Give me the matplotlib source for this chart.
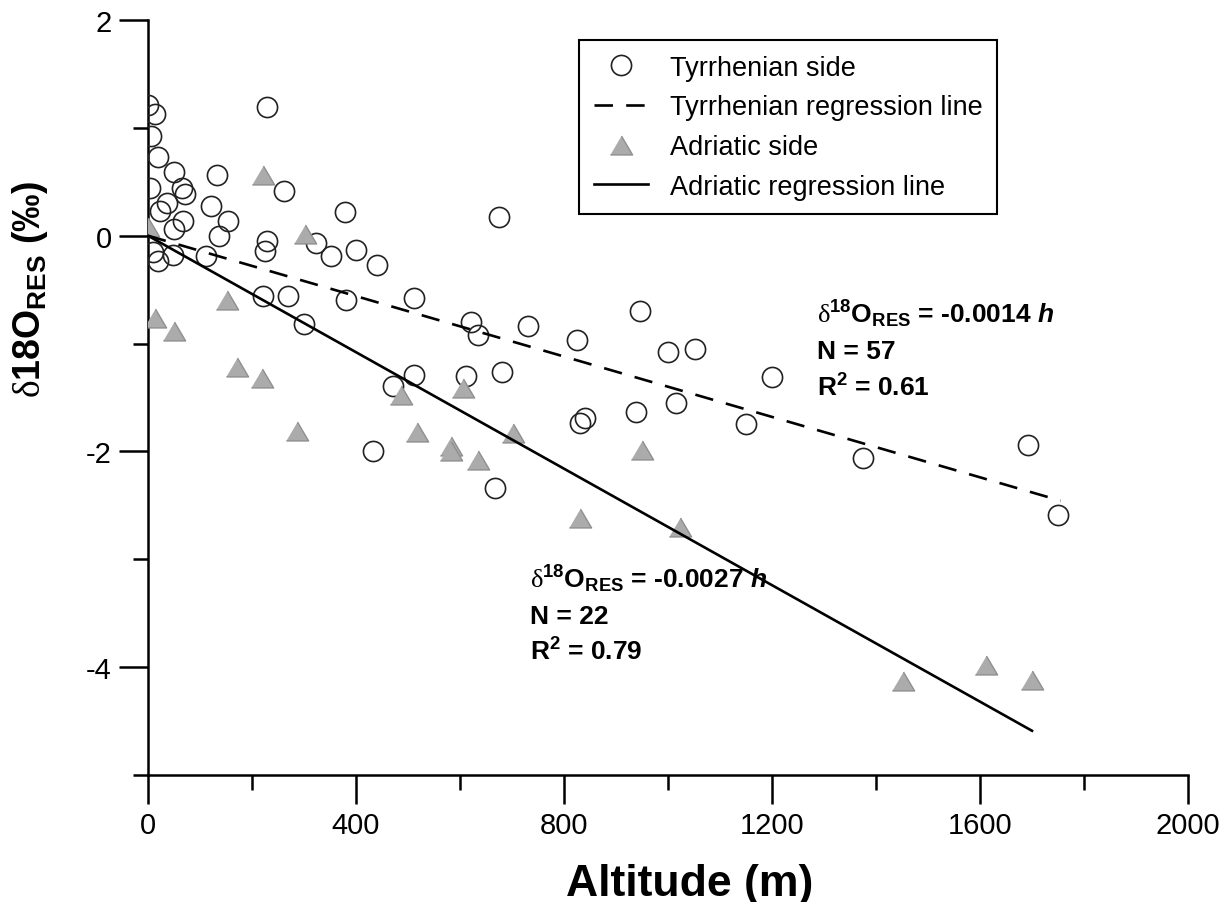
import numpy as np
import matplotlib
matplotlib.use("Agg")
import matplotlib.pyplot as plt
from matplotlib.ticker import MultipleLocator

plt.rcParams['font.family'] = ['Liberation Sans', 'DejaVu Sans']
plt.rcParams['mathtext.fontset'] = 'custom'
plt.rcParams['mathtext.rm'] = 'Liberation Serif'
plt.rcParams['mathtext.bf'] = 'Liberation Sans:bold'
plt.rcParams['mathtext.it'] = 'Liberation Sans:italic:bold'
plt.rcParams['axes.unicode_minus'] = False

# Tyrrhenian side (altitude m, d18O residual permil)
tyr_alt = [0, 13, 229, 6, 19, 50, 133, 4, 65, 71, 262, 121, 37, 23, 67,
           50, 154, 137, 229, 225, 323, 352, 400, 440, 379, 675, 10, 19, 48,
           112, 221, 269, 300, 381, 512, 621, 635, 731, 946, 825, 1000, 1052,
           1200, 512, 612, 681, 471, 1015, 938, 840, 831, 1150, 433, 667,
           1375, 1692, 1750]
tyr_d18o = [1.21, 1.13, 1.19, 0.92, 0.73, 0.59, 0.56, 0.44, 0.44, 0.39, 0.41,
            0.28, 0.30, 0.23, 0.14, 0.06, 0.14, 0.00, -0.05, -0.14, -0.07,
            -0.19, -0.13, -0.27, 0.22, 0.17, -0.15, -0.23, -0.18, -0.19,
            -0.56, -0.56, -0.82, -0.60, -0.58, -0.80, -0.92, -0.84, -0.70,
            -0.97, -1.08, -1.05, -1.31, -1.29, -1.30, -1.26, -1.39, -1.55,
            -1.63, -1.69, -1.74, -1.75, -2.00, -2.34, -2.06, -1.94, -2.59]

# Adriatic side
adr_alt = [0, 221, 302, 13, 50, 152, 171, 219, 287, 487, 606, 517, 583, 583,
           635, 702, 950, 831, 1023, 1452, 1612, 1700]
adr_d18o = [0.08, 0.56, 0.02, -0.76, -0.88, -0.60, -1.22, -1.32, -1.81, -1.48,
            -1.41, -1.82, -1.95, -2.00, -2.08, -1.83, -1.99, -2.62, -2.70,
            -4.13, -3.98, -4.12]

# regression lines through origin
tyr_slope = -0.0014
adr_slope = -0.0027
tyr_line_x = np.array([0, 1755])
adr_line_x = np.array([0, 1700])

fig = plt.figure(figsize=(12.3, 9.03), dpi=100)
ax = fig.add_axes([148 / 1230, 1 - 776 / 903, 1040 / 1230, 755 / 903])

tri = [(-1, -0.85), (1, -0.85), (0, 0.85)]

ax.plot(tyr_alt, tyr_d18o, 'o', ms=14.5, mfc='none', mec='#222222', mew=1.2,
        label='Tyrrhenian side', zorder=3)
ax.plot(adr_alt, adr_d18o, linestyle='none', marker=tri, ms=16, mfc='#ababab',
        mec='#8f8f8f', mew=1.0, label='Adriatic side', zorder=4)
ax.plot(tyr_line_x, tyr_slope * tyr_line_x, color='black', lw=1.9,
        linestyle=(0, (7, 5)), label='Tyrrhenian regression line', zorder=5)
ax.plot(adr_line_x, adr_slope * adr_line_x, color='black', lw=1.9,
        label='Adriatic regression line', zorder=5)

ax.set_xlim(0, 2000)
ax.set_ylim(-5, 2)
ax.xaxis.set_major_locator(MultipleLocator(400))
ax.xaxis.set_minor_locator(MultipleLocator(200))
ax.yaxis.set_major_locator(MultipleLocator(2))
ax.yaxis.set_minor_locator(MultipleLocator(1))
ax.spines['top'].set_visible(False)
ax.spines['right'].set_visible(False)
for s in ('left', 'bottom'):
    ax.spines[s].set_linewidth(1.8)
ax.tick_params(which='major', direction='out', length=21, width=1.8,
               labelsize=21, pad=5)
ax.tick_params(which='minor', direction='out', length=11, width=1.8)

ax.set_xlabel('Altitude (m)', fontsize=32, fontweight='bold')
ax.xaxis.set_label_coords(0.521, -0.117)
ax.set_ylabel(r'$\mathrm{\delta}\mathbf{18O}_{\mathbf{RES}}$ (‰)', fontsize=27,
              fontweight='bold')
ax.yaxis.set_label_coords(-0.094, 0.645)

# handles order as in the reference legend
h, l = ax.get_legend_handles_labels()
order = [0, 2, 1, 3]
leg = ax.legend([h[i] for i in order], [l[i] for i in order],
                loc='upper left', bbox_to_anchor=(579 / 1230, 1 - 41 / 903),
                bbox_transform=fig.transFigure, borderaxespad=0,
                fontsize=19.5, frameon=True, fancybox=False, framealpha=1,
                edgecolor='black', handlelength=2.0, handletextpad=0.8,
                labelspacing=0.5, borderpad=0.55)
leg.get_frame().set_linewidth(1.5)

kw = dict(fontsize=19, fontweight='bold', ha='left', va='center')
ax.text(1287, -0.72, r'$\mathrm{\delta}^{\mathbf{18}}\mathbf{O}_{\mathbf{RES}}$ = -0.0014 $h$', **kw)
ax.text(1287, -1.07, 'N = 57', **kw)
ax.text(1287, -1.40, r'R$^{\mathbf{2}}$ = 0.61', **kw)
ax.text(735, -3.18, r'$\mathrm{\delta}^{\mathbf{18}}\mathbf{O}_{\mathbf{RES}}$ = -0.0027 $h$', **kw)
ax.text(735, -3.53, 'N = 22', **kw)
ax.text(735, -3.85, r'R$^{\mathbf{2}}$ = 0.79', **kw)

fig.savefig('out.png', dpi=100)
